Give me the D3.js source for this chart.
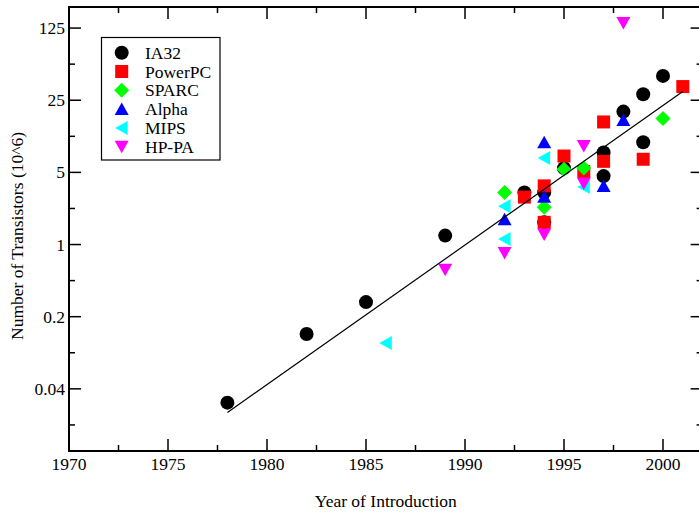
<!DOCTYPE html>
<html><head><meta charset="utf-8">
<script src="https://cdn.jsdelivr.net/npm/d3@7"></script>
<style>body{margin:0;background:#fff}svg{display:block}text{font-family:"Liberation Serif","Times New Roman",serif;fill:#000}</style>
</head><body><svg id="c" width="699" height="512"></svg>
<script>
const ia32Years   = [1978, 1982, 1985, 1989, 1993, 1994, 1994, 1995, 1997, 1997, 1998, 1999, 1999, 2000];
const ia32Values  = [0.0294, 0.136, 0.277, 1.22, 3.2, 3.2, 1.64, 5.5, 7.8, 4.6, 19.4, 28.6, 9.8, 43];
const ppcYears    = [1993, 1994, 1994, 1995, 1996, 1997, 1997, 1999, 2001];
const ppcValues   = [2.88, 3.7, 1.64, 7.2, 5.1, 6.4, 15.4, 6.7, 33.9];
const sparcYears  = [1992, 1994, 1995, 1996, 2000];
const sparcValues = [3.2, 2.3, 5.35, 5.5, 16.6];
const alphaYears  = [1992, 1994, 1994, 1997, 1998];
const alphaValues = [1.76, 9.8, 2.9, 3.7, 16.1];
const mipsYears   = [1986, 1992, 1992, 1994, 1996];
const mipsValues  = [0.111, 2.35, 1.13, 6.9, 3.6];
const hppaYears   = [1989, 1992, 1994, 1996, 1996, 1998];
const hppaValues  = [0.57, 0.83, 1.25, 9.0, 3.9, 140];
const trendYears  = [1978, 2001];
const trendValues = [0.0236, 30.4];
const seriesNames = ["IA32", "PowerPC", "SPARC", "Alpha", "MIPS", "HP-PA"];
const xTickLabels = ["1970", "1975", "1980", "1985", "1990", "1995", "2000"];
const yTickLabels = ["0.04", "0.2", "1", "5", "25", "125"];

const colors = ["#000000", "#ff0000", "#00ff00", "#0000ff", "#00ffff", "#ff00ff"];
const shapes = ["circle", "square", "diamond", "up", "left", "down"];
const series = [
  [ia32Years, ia32Values], [ppcYears, ppcValues], [sparcYears, sparcValues],
  [alphaYears, alphaValues], [mipsYears, mipsValues], [hppaYears, hppaValues]
];

const L = 69, R = 702.6, T = 7, B = 451;
const x = d3.scaleLinear().domain([1970, 2002]).range([L, R]);
const y = d3.scaleLog().base(5).domain([0.01, 200]).range([B, T]);
const svg = d3.select("#c");
const FS = 17.5;

function shapePath(s) {
  switch (s) {
    case "circle": return d3.symbol(d3.symbolCircle, Math.PI * 7 * 7)();
    case "square": return "M-6.5,-6.5H6.5V6.5H-6.5Z";
    case "diamond": return "M0,-7.5L7.5,0L0,7.5L-7.5,0Z";
    case "up": return "M0,-6.5L7,6L-7,6Z";
    case "down": return "M0,6.5L7,-6L-7,-6Z";
    case "left": return "M-6.5,0L6,-7L6,7Z";
  }
}

// ticks
const xMajor = xTickLabels.map(Number);
const xMinor = d3.range(1972.5, 2002.1, 5);
const yMajor = yTickLabels.map(Number);
const yMinor = yMajor.map(v => v / Math.sqrt(5));
const tk = svg.append("g").attr("stroke", "#000").attr("stroke-width", 1.5);
xMajor.forEach(v => {
  tk.append("line").attr("x1", x(v)).attr("x2", x(v)).attr("y1", B).attr("y2", B - 12);
  tk.append("line").attr("x1", x(v)).attr("x2", x(v)).attr("y1", T).attr("y2", T + 12);
});
xMinor.forEach(v => {
  tk.append("line").attr("x1", x(v)).attr("x2", x(v)).attr("y1", B).attr("y2", B - 6);
  tk.append("line").attr("x1", x(v)).attr("x2", x(v)).attr("y1", T).attr("y2", T + 6);
});
yMajor.forEach(v => {
  tk.append("line").attr("y1", y(v)).attr("y2", y(v)).attr("x1", L).attr("x2", L + 12);
  tk.append("line").attr("y1", y(v)).attr("y2", y(v)).attr("x1", R).attr("x2", R - 12);
});
yMinor.forEach(v => {
  tk.append("line").attr("y1", y(v)).attr("y2", y(v)).attr("x1", L).attr("x2", L + 6);
  tk.append("line").attr("y1", y(v)).attr("y2", y(v)).attr("x1", R).attr("x2", R - 6);
});
svg.append("rect").attr("x", L).attr("y", T).attr("width", R - L).attr("height", B - T)
  .attr("fill", "none").attr("stroke", "#000").attr("stroke-width", 2);

// tick labels
xTickLabels.forEach(t => {
  svg.append("text").attr("x", x(+t)).attr("y", B + 19).attr("text-anchor", "middle")
    .attr("font-size", FS).text(t);
});
yTickLabels.forEach(t => {
  svg.append("text").attr("x", 65).attr("y", y(+t) + 6).attr("text-anchor", "end")
    .attr("font-size", FS).text(t);
});

// axis titles
svg.append("text").attr("x", (L + R) / 2).attr("y", 507).attr("text-anchor", "middle")
  .attr("font-size", FS).text("Year of Introduction");
svg.append("text").attr("transform", "translate(23,236) rotate(-90)").attr("text-anchor", "middle")
  .attr("font-size", FS).text("Number of Transistors (10^6)");

// points
series.forEach((s, i) => {
  const [yrs, vals] = s;
  svg.append("g").selectAll("path").data(yrs.map((yr, j) => [yr, vals[j]])).join("path")
    .attr("d", shapePath(shapes[i]))
    .attr("transform", d => `translate(${x(d[0])},${y(d[1])})`)
    .attr("fill", colors[i]);
});

// trend line
svg.append("path").datum(trendYears.map((yr, j) => [yr, trendValues[j]]))
  .attr("d", d3.line().x(d => x(d[0])).y(d => y(d[1])))
  .attr("stroke", "#000").attr("stroke-width", 1.2).attr("fill", "none");

// legend
const lg = svg.append("g");
lg.append("rect").attr("x", 101.5).attr("y", 37.5).attr("width", 118.5).attr("height", 122.5)
  .attr("fill", "#fff").attr("stroke", "#000").attr("stroke-width", 1.2);
seriesNames.forEach((n, i) => {
  const cy = 52.7 + i * 18.8;
  lg.append("path").attr("d", shapePath(shapes[i])).attr("transform", `translate(121.7,${cy})`)
    .attr("fill", colors[i]);
  lg.append("text").attr("x", 145).attr("y", cy + 6).attr("font-size", FS).text(n);
});
</script></body></html>
